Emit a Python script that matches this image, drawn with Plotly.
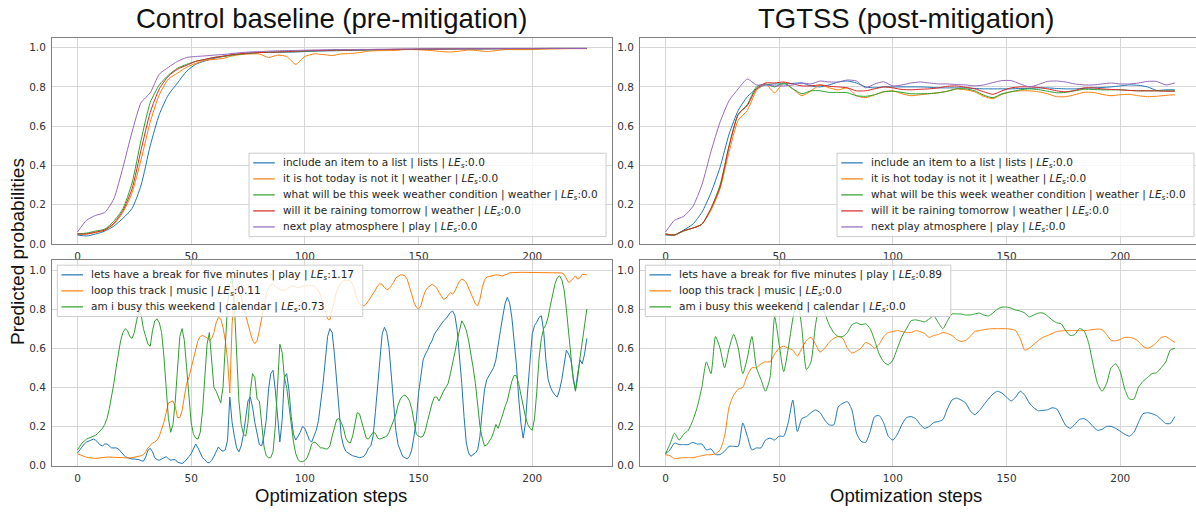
import plotly.graph_objects as go

# ---------------------------------------------------------------------------
# Data: predicted probability of the target intent per optimization step
# ---------------------------------------------------------------------------
STEPS_TOP = list(range(0, 225, 4))
STEPS_BL = list(range(0, 225, 1))
STEPS_BR = list(range(0, 225, 2))

TOP_LABELS = [
    "include an item to a list | lists | <i>LE</i><sub><i>s</i></sub>:0.0",
    "it is hot today is not it | weather | <i>LE</i><sub><i>s</i></sub>:0.0",
    "what will be this week weather condition | weather | <i>LE</i><sub><i>s</i></sub>:0.0",
    "will it be raining tomorrow | weather | <i>LE</i><sub><i>s</i></sub>:0.0",
    "next play atmosphere | play | <i>LE</i><sub><i>s</i></sub>:0.0",
]
BL_LABELS = [
    "lets have a break for five minutes | play | <i>LE</i><sub><i>s</i></sub>:1.17",
    "loop this track | music | <i>LE</i><sub><i>s</i></sub>:0.11",
    "am i busy this weekend | calendar | <i>LE</i><sub><i>s</i></sub>:0.73",
]
BR_LABELS = [
    "lets have a break for five minutes | play | <i>LE</i><sub><i>s</i></sub>:0.89",
    "loop this track | music | <i>LE</i><sub><i>s</i></sub>:0.0",
    "am i busy this weekend | calendar | <i>LE</i><sub><i>s</i></sub>:0.0",
]

# Control baseline, in-domain utterances (steps 0..224 every 4)
ctrl_list = [0.045, 0.04, 0.05, 0.065, 0.09, 0.13, 0.18, 0.30, 0.50, 0.66,
             0.76, 0.82, 0.88, 0.915, 0.932, 0.945, 0.955, 0.963, 0.968, 0.972,
             0.975, 0.976, 0.976, 0.977, 0.978, 0.98, 0.982, 0.983, 0.984, 0.985,
             0.986, 0.987, 0.988, 0.989, 0.99, 0.99, 0.991, 0.991, 0.992, 0.992,
             0.993, 0.993, 0.993, 0.994, 0.994, 0.994, 0.994, 0.995, 0.995, 0.995,
             0.995, 0.995, 0.996, 0.996, 0.996, 0.996, 0.996]
ctrl_hot = [0.05, 0.05, 0.058, 0.07, 0.10, 0.16, 0.26, 0.43, 0.62, 0.76,
            0.84, 0.87, 0.9, 0.92, 0.935, 0.94, 0.945, 0.958, 0.965, 0.968,
            0.968, 0.95, 0.962, 0.955, 0.915, 0.955, 0.968, 0.965, 0.96, 0.968,
            0.97, 0.975, 0.982, 0.985, 0.985, 0.986, 0.99, 0.99, 0.988, 0.985,
            0.98, 0.978, 0.982, 0.988, 0.985, 0.98, 0.985, 0.99, 0.99, 0.99,
            0.99, 0.992, 0.993, 0.994, 0.995, 0.995, 0.995]
ctrl_week = [0.05, 0.055, 0.065, 0.075, 0.115, 0.18, 0.31, 0.53, 0.72, 0.81,
             0.86, 0.895, 0.915, 0.93, 0.94, 0.95, 0.955, 0.962, 0.967, 0.972,
             0.975, 0.977, 0.978, 0.979, 0.98, 0.982, 0.984, 0.985, 0.986, 0.987,
             0.988, 0.988, 0.989, 0.99, 0.99, 0.991, 0.991, 0.992, 0.992, 0.993,
             0.993, 0.993, 0.994, 0.994, 0.994, 0.994, 0.995, 0.995, 0.995, 0.995,
             0.995, 0.995, 0.996, 0.996, 0.996, 0.996, 0.996]
ctrl_rain = [0.05, 0.05, 0.06, 0.07, 0.105, 0.17, 0.28, 0.48, 0.67, 0.79,
             0.855, 0.89, 0.91, 0.93, 0.94, 0.95, 0.957, 0.965, 0.97, 0.973,
             0.975, 0.977, 0.978, 0.98, 0.982, 0.984, 0.985, 0.986, 0.987, 0.988,
             0.988, 0.989, 0.99, 0.99, 0.991, 0.991, 0.992, 0.992, 0.993, 0.993,
             0.993, 0.994, 0.994, 0.994, 0.994, 0.995, 0.995, 0.995, 0.995, 0.995,
             0.995, 0.996, 0.996, 0.996, 0.996, 0.996, 0.996]
ctrl_play = [0.06, 0.12, 0.145, 0.16, 0.23, 0.39, 0.57, 0.72, 0.77, 0.865,
             0.9, 0.93, 0.95, 0.955, 0.958, 0.962, 0.965, 0.97, 0.975, 0.978,
             0.98, 0.982, 0.984, 0.985, 0.986, 0.987, 0.988, 0.989, 0.99, 0.99,
             0.99, 0.991, 0.991, 0.992, 0.992, 0.993, 0.993, 0.993, 0.994, 0.994,
             0.994, 0.994, 0.995, 0.995, 0.995, 0.995, 0.995, 0.995, 0.996, 0.996,
             0.996, 0.996, 0.996, 0.996, 0.996, 0.996, 0.996]

# TGTSS, in-domain utterances (steps 0..224 every 4)
tgtss_list = [0.045, 0.045, 0.07, 0.1, 0.16, 0.26, 0.39, 0.56, 0.68, 0.75,
              0.79, 0.81, 0.815, 0.815, 0.818, 0.82, 0.805, 0.8, 0.81, 0.825,
              0.83, 0.82, 0.8, 0.795, 0.8, 0.8, 0.8, 0.8, 0.8, 0.798,
              0.795, 0.795, 0.795, 0.795, 0.792, 0.79, 0.79, 0.79, 0.79, 0.792,
              0.792, 0.795, 0.795, 0.792, 0.79, 0.79, 0.792, 0.795, 0.797, 0.8,
              0.805, 0.81, 0.808, 0.8, 0.782, 0.785, 0.785]
tgtss_hot = [0.05, 0.045, 0.065, 0.08, 0.1, 0.17, 0.28, 0.47, 0.63, 0.68,
             0.78, 0.815, 0.77, 0.82, 0.79, 0.755, 0.78, 0.81, 0.795, 0.785,
             0.795, 0.755, 0.745, 0.76, 0.775, 0.78, 0.765, 0.755, 0.76, 0.765,
             0.77, 0.778, 0.79, 0.785, 0.775, 0.752, 0.74, 0.762, 0.775, 0.78,
             0.78, 0.775, 0.765, 0.75, 0.75, 0.76, 0.772, 0.772, 0.762, 0.755,
             0.76, 0.762, 0.755, 0.75, 0.752, 0.757, 0.76]
tgtss_week = [0.05, 0.045, 0.065, 0.08, 0.1, 0.18, 0.3, 0.5, 0.66, 0.71,
              0.8, 0.815, 0.8, 0.82, 0.79, 0.765, 0.78, 0.78, 0.772, 0.772,
              0.77, 0.755, 0.752, 0.76, 0.775, 0.778, 0.772, 0.765, 0.765, 0.766,
              0.77, 0.778, 0.79, 0.79, 0.78, 0.758, 0.745, 0.765, 0.775, 0.785,
              0.79, 0.786, 0.778, 0.77, 0.772, 0.78, 0.788, 0.787, 0.785, 0.785,
              0.785, 0.782, 0.78, 0.78, 0.78, 0.78, 0.78]
tgtss_rain = [0.05, 0.045, 0.068, 0.08, 0.1, 0.18, 0.29, 0.5, 0.66, 0.705,
              0.79, 0.82, 0.82, 0.825, 0.815, 0.805, 0.805, 0.81, 0.803, 0.8,
              0.795, 0.78, 0.78, 0.79, 0.8, 0.795, 0.787, 0.785, 0.788, 0.79,
              0.795, 0.803, 0.805, 0.798, 0.79, 0.775, 0.762, 0.78, 0.795, 0.8,
              0.8, 0.797, 0.79, 0.78, 0.775, 0.782, 0.795, 0.795, 0.79, 0.787,
              0.785, 0.782, 0.78, 0.78, 0.78, 0.778, 0.778]
tgtss_play = [0.06, 0.12, 0.14, 0.19, 0.30, 0.47, 0.62, 0.73, 0.79, 0.84,
              0.81, 0.81, 0.805, 0.805, 0.81, 0.82, 0.815, 0.83, 0.825, 0.825,
              0.835, 0.83, 0.795, 0.815, 0.826, 0.805, 0.81, 0.82, 0.825, 0.82,
              0.815, 0.815, 0.812, 0.81, 0.805, 0.81, 0.822, 0.832, 0.832, 0.815,
              0.8, 0.812, 0.828, 0.83, 0.825, 0.815, 0.81, 0.81, 0.815, 0.82,
              0.815, 0.815, 0.82, 0.828, 0.828, 0.81, 0.82]

# Control baseline, out-of-domain utterances (every step 0..224)
ctrl_break = [0.064, 0.08, 0.098, 0.11, 0.12, 0.125, 0.13, 0.135, 0.13, 0.118,
              0.105, 0.10, 0.11, 0.11, 0.098, 0.09, 0.09, 0.09, 0.085, 0.07,
              0.056, 0.045, 0.04, 0.035, 0.033, 0.033, 0.033, 0.03, 0.025, 0.022,
              0.044, 0.078, 0.088, 0.07, 0.04, 0.03, 0.027, 0.033, 0.04, 0.045,
              0.035, 0.027, 0.03, 0.03, 0.017, 0.012, 0.01, 0.018, 0.03, 0.045,
              0.06, 0.09, 0.11, 0.09, 0.06, 0.04, 0.03, 0.016, 0.014, 0.025,
              0.047, 0.073, 0.095, 0.08, 0.073, 0.08, 0.13, 0.35, 0.22, 0.15,
              0.09, 0.07, 0.1, 0.16, 0.25, 0.33, 0.35, 0.3, 0.22, 0.16,
              0.107, 0.1, 0.15, 0.23, 0.386, 0.47, 0.487, 0.386, 0.25, 0.12,
              0.23, 0.45, 0.47, 0.386, 0.25, 0.16, 0.13, 0.15, 0.17, 0.2,
              0.19, 0.16, 0.13, 0.12, 0.15, 0.18, 0.23, 0.32, 0.42, 0.54,
              0.66, 0.70, 0.68, 0.57, 0.42, 0.28, 0.15, 0.1, 0.073, 0.064,
              0.056, 0.05, 0.047, 0.042, 0.04, 0.042, 0.047, 0.064, 0.09, 0.1,
              0.15, 0.27, 0.42, 0.555, 0.673, 0.707, 0.68, 0.605, 0.453, 0.3,
              0.18, 0.107, 0.073, 0.047, 0.04, 0.034, 0.047, 0.08, 0.15, 0.23,
              0.37, 0.47, 0.54, 0.57, 0.59, 0.62, 0.64, 0.673, 0.69, 0.707,
              0.724, 0.74, 0.75, 0.766, 0.783, 0.79, 0.766, 0.69, 0.57, 0.42,
              0.25, 0.115, 0.064, 0.047, 0.056, 0.064, 0.08, 0.15, 0.28, 0.386,
              0.44, 0.46, 0.48, 0.5, 0.54, 0.605, 0.69, 0.76, 0.826, 0.86,
              0.834, 0.76, 0.656, 0.52, 0.35, 0.217, 0.14, 0.217, 0.386, 0.555,
              0.673, 0.716, 0.733, 0.758, 0.766, 0.69, 0.54, 0.44, 0.40, 0.377,
              0.36, 0.35, 0.386, 0.44, 0.52, 0.59, 0.57, 0.54, 0.45, 0.386,
              0.47, 0.54, 0.52, 0.57, 0.65]
ctrl_loop = [0.06, 0.055, 0.05, 0.045, 0.042, 0.04, 0.038, 0.037, 0.036, 0.038,
             0.04, 0.042, 0.043, 0.043, 0.043, 0.043, 0.043, 0.043, 0.042, 0.041,
             0.04, 0.039, 0.038, 0.039, 0.04, 0.042, 0.045, 0.048, 0.05, 0.056,
             0.07, 0.09, 0.105, 0.115, 0.12, 0.13, 0.15, 0.18, 0.22, 0.27,
             0.32, 0.325, 0.33, 0.30, 0.245, 0.245, 0.28, 0.35, 0.42, 0.45,
             0.5, 0.54, 0.59, 0.64, 0.66, 0.665, 0.66, 0.653, 0.64, 0.648,
             0.68, 0.73, 0.758, 0.75, 0.707, 0.64, 0.54, 0.37, 0.724, 0.876,
             0.91, 0.893, 0.86, 0.81, 0.758, 0.724, 0.68, 0.64, 0.623, 0.64,
             0.69, 0.758, 0.826, 0.876, 0.91, 0.927, 0.927, 0.919, 0.91, 0.9,
             0.897, 0.893, 0.9, 0.91, 0.919, 0.919, 0.914, 0.91, 0.914, 0.919,
             0.919, 0.92, 0.922, 0.92, 0.919, 0.91, 0.893, 0.868, 0.826, 0.783,
             0.75, 0.745, 0.79, 0.85, 0.893, 0.919, 0.936, 0.944, 0.948, 0.948,
             0.944, 0.927, 0.893, 0.85, 0.826, 0.817, 0.817, 0.826, 0.843, 0.86,
             0.876, 0.897, 0.919, 0.93, 0.927, 0.91, 0.9, 0.904, 0.919, 0.936,
             0.96, 0.97, 0.975, 0.975, 0.97, 0.953, 0.919, 0.876, 0.834, 0.81,
             0.8, 0.817, 0.86, 0.893, 0.91, 0.919, 0.927, 0.919, 0.907, 0.885,
             0.868, 0.85, 0.855, 0.872, 0.885, 0.876, 0.893, 0.919, 0.944, 0.953,
             0.948, 0.936, 0.91, 0.885, 0.86, 0.826, 0.817, 0.85, 0.91, 0.948,
             0.964, 0.967, 0.97, 0.972, 0.975, 0.974, 0.97, 0.97, 0.975, 0.978,
             0.986, 0.987, 0.988, 0.988, 0.988, 0.988, 0.988, 0.988, 0.988, 0.988,
             0.988, 0.988, 0.988, 0.988, 0.988, 0.988, 0.988, 0.988, 0.988, 0.988,
             0.988, 0.988, 0.987, 0.985, 0.978, 0.96, 0.936, 0.944, 0.96, 0.97,
             0.953, 0.96, 0.978, 0.975, 0.975]
ctrl_busy = [0.08, 0.10, 0.115, 0.125, 0.135, 0.14, 0.145, 0.15, 0.155, 0.165,
             0.175, 0.19, 0.21, 0.24, 0.29, 0.35, 0.42, 0.50, 0.58, 0.64,
             0.68, 0.70, 0.69, 0.66, 0.65, 0.68, 0.74, 0.79, 0.77, 0.70,
             0.66, 0.62, 0.61, 0.69, 0.74, 0.75, 0.73, 0.68, 0.56, 0.40,
             0.24, 0.17, 0.21, 0.33, 0.52, 0.66, 0.70, 0.64, 0.50, 0.35,
             0.22, 0.16, 0.14, 0.135, 0.17, 0.28, 0.45, 0.62, 0.68, 0.55,
             0.40, 0.38, 0.35, 0.32, 0.40, 0.62, 0.82, 0.93, 0.96, 0.82,
             0.55, 0.33, 0.21, 0.16, 0.15, 0.22, 0.38, 0.47, 0.45, 0.34,
             0.33, 0.20, 0.10, 0.05, 0.04, 0.04, 0.07, 0.20, 0.45, 0.62,
             0.58, 0.45, 0.40, 0.30, 0.20, 0.12, 0.06, 0.03, 0.02, 0.02,
             0.025, 0.04, 0.07, 0.11, 0.12, 0.115, 0.10, 0.09, 0.09, 0.085,
             0.085, 0.10, 0.15, 0.20, 0.235, 0.24, 0.22, 0.19, 0.14, 0.12,
             0.115, 0.15, 0.22, 0.27, 0.265, 0.22, 0.17, 0.14, 0.135, 0.15,
             0.17, 0.165, 0.14, 0.135, 0.14, 0.145, 0.15, 0.17, 0.2, 0.23,
             0.26, 0.31, 0.34, 0.355, 0.36, 0.35, 0.33, 0.29, 0.22, 0.16,
             0.15, 0.145, 0.15, 0.18, 0.23, 0.28, 0.32, 0.35, 0.35, 0.33,
             0.36, 0.38, 0.40, 0.42, 0.47, 0.52, 0.58, 0.64, 0.70, 0.74,
             0.72, 0.69, 0.64, 0.58, 0.50, 0.42, 0.30, 0.2, 0.14, 0.1,
             0.105, 0.12, 0.14, 0.17, 0.21, 0.19, 0.22, 0.26, 0.30, 0.33,
             0.38, 0.43, 0.46, 0.46, 0.42, 0.36, 0.30, 0.25, 0.21, 0.19,
             0.18, 0.24, 0.38, 0.55, 0.65, 0.70, 0.72, 0.76, 0.82, 0.88,
             0.93, 0.96, 0.97, 0.95, 0.90, 0.80, 0.68, 0.55, 0.44, 0.38,
             0.45, 0.55, 0.63, 0.72, 0.80]

# TGTSS, out-of-domain utterances (steps 0..224 every 2)
tgtss_break = [0.06, 0.08, 0.115, 0.107, 0.107, 0.107, 0.118, 0.11, 0.11, 0.08,
               0.085, 0.056, 0.056, 0.073, 0.098, 0.098, 0.098, 0.217, 0.15, 0.08,
               0.09, 0.09, 0.13, 0.14, 0.13, 0.15, 0.15, 0.22, 0.335, 0.174,
               0.24, 0.25, 0.27, 0.284, 0.27, 0.233, 0.208, 0.208, 0.3, 0.318,
               0.327, 0.284, 0.166, 0.124, 0.118, 0.174, 0.25, 0.255, 0.217, 0.15,
               0.13, 0.16, 0.21, 0.245, 0.25, 0.24, 0.21, 0.19, 0.2, 0.22,
               0.225, 0.235, 0.29, 0.335, 0.345, 0.335, 0.32, 0.28, 0.26, 0.28,
               0.31, 0.34, 0.365, 0.38, 0.37, 0.35, 0.33, 0.35, 0.38, 0.36,
               0.32, 0.295, 0.28, 0.282, 0.285, 0.295, 0.29, 0.25, 0.205, 0.19,
               0.21, 0.235, 0.24, 0.225, 0.2, 0.18, 0.185, 0.2, 0.2, 0.19,
               0.175, 0.16, 0.15, 0.17, 0.22, 0.265, 0.27, 0.265, 0.255, 0.235,
               0.215, 0.215, 0.25]
tgtss_loop = [0.055, 0.05, 0.035, 0.038, 0.04, 0.04, 0.04, 0.045, 0.05, 0.055,
              0.055, 0.06, 0.08, 0.15, 0.3, 0.36, 0.39, 0.4, 0.46, 0.5,
              0.5, 0.52, 0.53, 0.53, 0.57, 0.6, 0.61, 0.6, 0.59, 0.56,
              0.6, 0.64, 0.655, 0.62, 0.58, 0.6, 0.63, 0.65, 0.66, 0.65,
              0.6, 0.575, 0.585, 0.6, 0.63, 0.62, 0.6, 0.62, 0.66, 0.68,
              0.685, 0.69, 0.685, 0.68, 0.68, 0.69, 0.685, 0.675, 0.655, 0.665,
              0.67, 0.68, 0.675, 0.665, 0.645, 0.635, 0.64, 0.66, 0.685, 0.69,
              0.695, 0.698, 0.7, 0.7, 0.7, 0.7, 0.697, 0.69, 0.65, 0.59,
              0.6, 0.62, 0.64, 0.655, 0.665, 0.675, 0.685, 0.688, 0.69, 0.69,
              0.69, 0.69, 0.69, 0.692, 0.695, 0.698, 0.695, 0.67, 0.64, 0.638,
              0.645, 0.655, 0.655, 0.65, 0.635, 0.61, 0.6, 0.61, 0.63, 0.655,
              0.66, 0.645, 0.63]
tgtss_busy = [0.06, 0.11, 0.165, 0.13, 0.16, 0.18, 0.23, 0.3, 0.4, 0.53,
              0.47, 0.66, 0.6, 0.5, 0.6, 0.67, 0.6, 0.47, 0.55, 0.66,
              0.5, 0.44, 0.38, 0.45, 0.76, 0.62, 0.48, 0.6, 0.75, 0.85,
              0.7, 0.49, 0.53, 0.72, 0.83, 0.78, 0.72, 0.68, 0.66, 0.66,
              0.68, 0.72, 0.73, 0.72, 0.725, 0.7, 0.64, 0.57, 0.53, 0.515,
              0.54, 0.6, 0.66, 0.7, 0.74, 0.745, 0.74, 0.735, 0.75, 0.765,
              0.73, 0.7, 0.74, 0.775, 0.775, 0.775, 0.77, 0.77, 0.775, 0.78,
              0.77, 0.765, 0.78, 0.8, 0.81, 0.81, 0.805, 0.795, 0.79, 0.78,
              0.76, 0.77, 0.78, 0.78, 0.765, 0.745, 0.73, 0.725, 0.69, 0.665,
              0.67, 0.7, 0.69, 0.63, 0.52, 0.42, 0.38, 0.42, 0.5, 0.52,
              0.48, 0.39, 0.34, 0.34, 0.4, 0.43, 0.45, 0.47, 0.475, 0.5,
              0.53, 0.59, 0.6]

COLORS = ["#1f77b4", "#ff7f0e", "#2ca02c", "#d62728", "#9467bd"]

# ---------------------------------------------------------------------------
# Layout geometry (pixels of a 1196 x 514 canvas)
# ---------------------------------------------------------------------------
W, H = 1196, 514


def fx(px):
    return px / W


def fy(py):
    return 1 - py / H


LEFT_X = (52, 612.3)
RIGHT_X = (640, 1196)
TOP_Y = (38.3, 246.7)
BOT_Y = (263.3, 471)

fig = go.Figure()

panels = [
    # (axis suffix, steps, series, labels, line shape)
    ("", STEPS_TOP, [ctrl_list, ctrl_hot, ctrl_week, ctrl_rain, ctrl_play], TOP_LABELS, "spline"),
    ("2", STEPS_TOP, [tgtss_list, tgtss_hot, tgtss_week, tgtss_rain, tgtss_play], TOP_LABELS, "spline"),
    ("3", STEPS_BL, [ctrl_break, ctrl_loop, ctrl_busy], BL_LABELS, "linear"),
    ("4", STEPS_BR, [tgtss_break, tgtss_loop, tgtss_busy], BR_LABELS, "spline"),
]

for suffix, steps, series, labels, shape in panels:
    for i, (vals, name) in enumerate(zip(series, labels)):
        assert len(vals) == len(steps), (suffix, i, len(vals))
        fig.add_trace(go.Scatter(
            x=steps, y=vals, mode="lines", name=name, showlegend=False,
            line=dict(color=COLORS[i], width=1, shape=shape, smoothing=0.6),
            xaxis="x" + suffix, yaxis="y" + suffix,
        ))

tick_font = dict(family="DejaVu Sans", size=10.5, color="#333333")
common = dict(showgrid=True, gridcolor="#d6d6d6", gridwidth=1, showline=True,
              linecolor="#808080", linewidth=1, ticks="", zeroline=False,
              tickfont=tick_font, ticklabelstandoff=3)
xcommon = dict(common, tickvals=[0, 50, 100, 150, 200], mirror=True)
ycommon = dict(common, tickvals=[0, 0.2, 0.4, 0.6, 0.8, 1.0], tickformat=".1f",
               range=[0, 1.05])

x_left_range = [-11.2, 235.2]
x_right_range = [-11.2, -11.2 + (RIGHT_X[1] - RIGHT_X[0]) / ((LEFT_X[1] - LEFT_X[0]) / 246.4)]

fig.update_layout(
    width=W, height=H, margin=dict(l=0, r=0, t=0, b=0),
    paper_bgcolor="white", plot_bgcolor="white", showlegend=False,
    xaxis=dict(xcommon, domain=[fx(LEFT_X[0]), fx(LEFT_X[1])], range=x_left_range, anchor="y"),
    yaxis=dict(ycommon, domain=[fy(TOP_Y[1]), fy(TOP_Y[0])], anchor="x", mirror=True),
    xaxis2=dict(xcommon, domain=[fx(RIGHT_X[0]), 1.0], range=x_right_range, anchor="y2"),
    yaxis2=dict(ycommon, domain=[fy(TOP_Y[1]), fy(TOP_Y[0])], anchor="x2", mirror=False),
    xaxis3=dict(xcommon, domain=[fx(LEFT_X[0]), fx(LEFT_X[1])], range=x_left_range, anchor="y3"),
    yaxis3=dict(ycommon, domain=[fy(BOT_Y[1]), fy(BOT_Y[0])], anchor="x3", mirror=True),
    xaxis4=dict(xcommon, domain=[fx(RIGHT_X[0]), 1.0], range=x_right_range, anchor="y4"),
    yaxis4=dict(ycommon, domain=[fy(BOT_Y[1]), fy(BOT_Y[0])], anchor="x4", mirror=False),
)

# ---------------------------------------------------------------------------
# Per-panel legends (framed boxes)
# ---------------------------------------------------------------------------
ROW = 16.2
PAD = 9.8
legend_font = dict(family="DejaVu Sans", size=10.5, color="#262626")


def draw_legend(left, top, width, labels):
    height = 2 * PAD + ROW * (len(labels) - 1)
    fig.add_shape(type="rect", xref="paper", yref="paper",
                  x0=fx(left), x1=fx(left + width), y0=fy(top + height), y1=fy(top),
                  line=dict(color="#cccccc", width=1), fillcolor="rgba(255,255,255,0.8)",
                  layer="above")
    for i, label in enumerate(labels):
        yc = top + PAD + ROW * i
        fig.add_shape(type="line", xref="paper", yref="paper",
                      x0=fx(left + 4.2), x1=fx(left + 25.8), y0=fy(yc), y1=fy(yc),
                      line=dict(color=COLORS[i], width=1.2), layer="above")
        fig.add_annotation(text=label, xref="paper", yref="paper",
                           x=fx(left + 33), y=fy(yc), xanchor="left", yanchor="middle",
                           showarrow=False, font=legend_font, borderpad=0)


draw_legend(LEFT_X[0] + 197, 155, 357, TOP_LABELS)
draw_legend(RIGHT_X[0] + 197, 155, 357, TOP_LABELS)
draw_legend(LEFT_X[0] + 5.3, 268.3, 305.5, BL_LABELS)
draw_legend(RIGHT_X[0] + 5.3, 268.3, 305.5, BR_LABELS)

# ---------------------------------------------------------------------------
# Titles and axis labels
# ---------------------------------------------------------------------------
big = dict(family="Liberation Sans, Arial, sans-serif", color="#111111")


def label(text, x, y, size, angle=0):
    fig.add_annotation(text=text, xref="paper", yref="paper", x=fx(x), y=fy(y),
                       xanchor="center", yanchor="middle", showarrow=False,
                       textangle=angle, font=dict(big, size=size))


label("Control baseline (pre-mitigation)", 331, 19, 27.5)
label("TGTSS (post-mitigation)", 906, 19, 27.5)
label("Optimization steps", 331, 501, 18.5)
label("Optimization steps", 906, 501, 18.5)
label("Predicted probabilities", 17, 255, 19, angle=-90)

fig.write_html("out.html", config={"displayModeBar": False})
